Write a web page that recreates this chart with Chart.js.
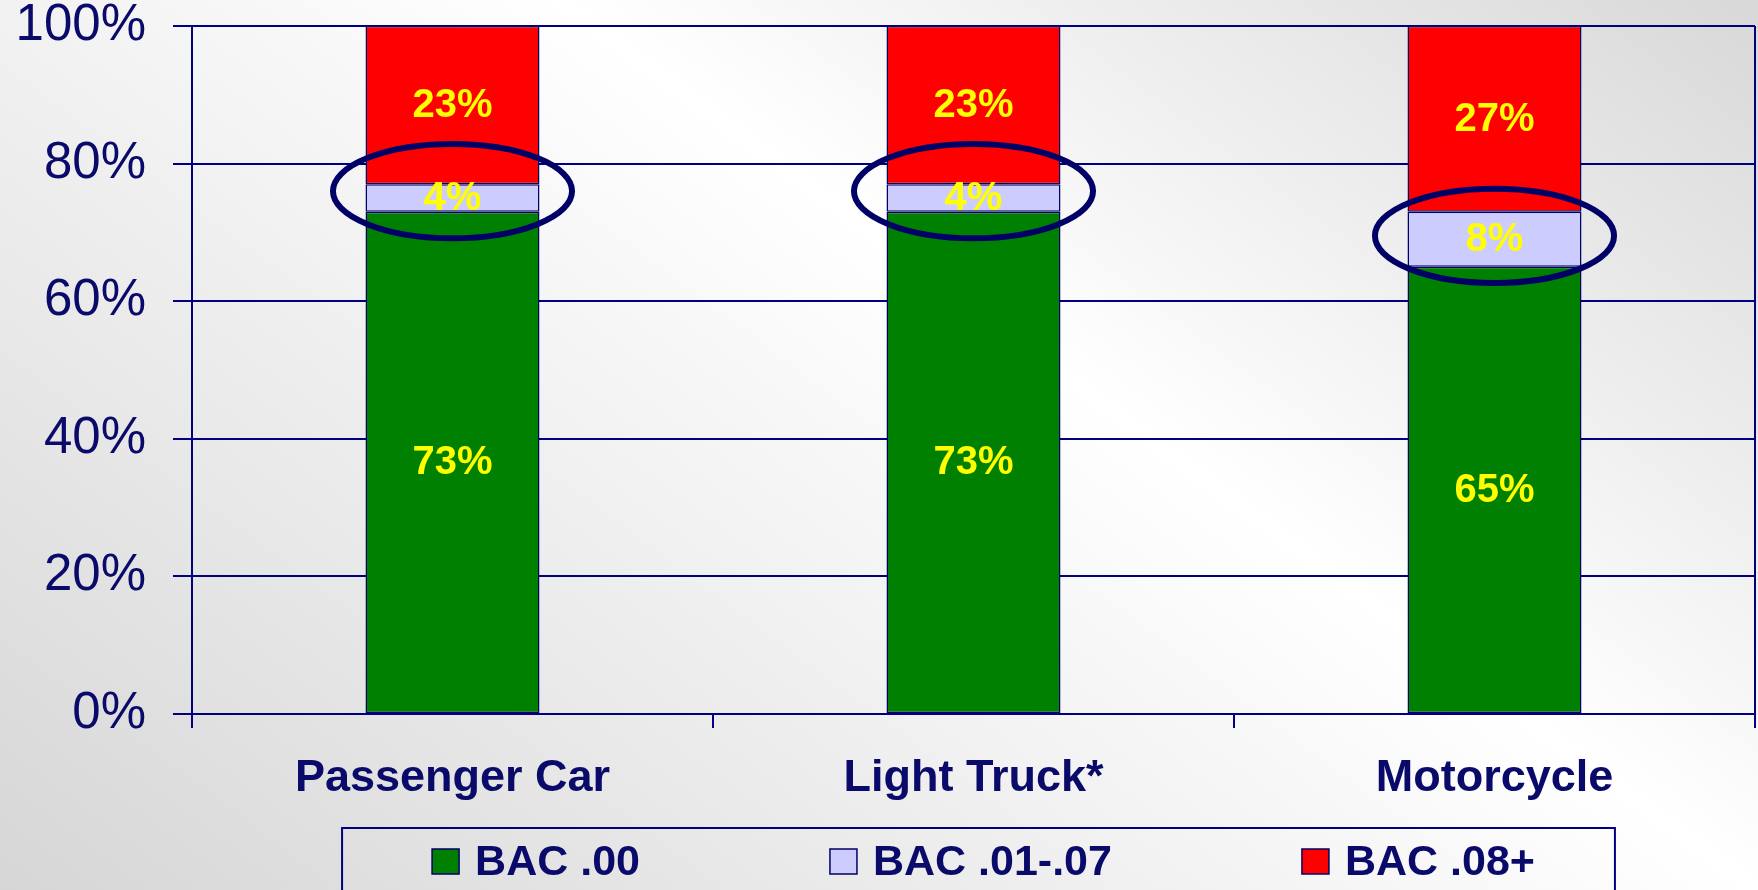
<!DOCTYPE html>
<html>
<head>
<meta charset="utf-8">
<script src="https://cdn.jsdelivr.net/npm/chart.js@4.4.1/dist/chart.umd.min.js"></script>
<style>
html,body{margin:0;padding:0;overflow:hidden;background:#fff}
#wrap{width:1758px;height:890px;position:relative;
  background:linear-gradient(36.6deg,#d6d6d6 0%,#ffffff 59.5%,#d8d8d8 100%);}
</style>
</head>
<body>
<div id="wrap"><canvas id="c"></canvas></div>
<script>
// ---- data ----
const categories = ['Passenger Car', 'Light Truck*', 'Motorcycle'];
const seriesNames = ['BAC .00', 'BAC .01-.07', 'BAC .08+'];
const bac00 = [73, 73, 65];
const bac0107 = [4, 4, 8];
const bac08 = [23, 23, 27];
const yTickValues = [0, 20, 40, 60, 80, 100];
const highlightCenters = [76, 76, 69.5];   // value each highlight ellipse is centred on

const seriesColors = ['#008000', '#CCCCFF', '#FF0000'];
const NAVY = '#000080';
const TEXT = '#0a0a6a';
const FONT = '"Liberation Sans", Arial, Helvetica, sans-serif';

const valueLabels = {
  id: 'valueLabels',
  afterDatasetsDraw(chart) {
    const ctx = chart.ctx;
    const xs = chart.scales.x, ys = chart.scales.y;
    ctx.save();
    // highlight ellipses
    const meta0 = chart.getDatasetMeta(0);
    highlightCenters.forEach((v, i) => {
      const bw = meta0.data[i].width;
      const cx = xs.getPixelForValue(i);
      const cy = ys.getPixelForValue(v);
      const ry = Math.abs(ys.getPixelForValue(v + 6.85) - cy);
      ctx.beginPath();
      ctx.ellipse(cx, cy, bw * 0.687, ry, 0, 0, Math.PI * 2);
      ctx.lineWidth = 6;
      ctx.strokeStyle = '#000066';
      ctx.stroke();
    });
    // value labels
    ctx.font = 'bold 40px ' + FONT;
    ctx.fillStyle = '#FFFF00';
    ctx.textAlign = 'center';
    ctx.textBaseline = 'middle';
    chart.data.datasets.forEach((ds, di) => {
      const meta = chart.getDatasetMeta(di);
      meta.data.forEach((bar, i) => {
        const y = (bar.y + bar.base) / 2;
        ctx.fillText(ds.data[i] + '%', bar.x, y + 1);
      });
    });
    ctx.restore();
  }
};

const frameAndLegend = {
  id: 'frameAndLegend',
  afterDraw(chart) {
    const ctx = chart.ctx;
    const ca = chart.chartArea;
    ctx.save();
    // plot frame (right edge)
    ctx.strokeStyle = NAVY;
    ctx.lineWidth = 2;
    ctx.beginPath();
    ctx.moveTo(ca.right, ca.top);
    ctx.lineTo(ca.right, ca.bottom);
    ctx.stroke();
    // legend
    ctx.font = 'bold 43px ' + FONT;
    const box = 27, gap = 16, spacing = 190;
    const items = chart.data.datasets.map(ds => ({
      label: ds.label, color: ds.backgroundColor, w: ctx.measureText(ds.label).width
    }));
    const total = items.reduce((s, it) => s + box + gap + it.w, 0) + spacing * (items.length - 1);
    let x = (ca.left + ca.right) / 2 + 10 - total / 2;
    const top = chart.height - 62;
    const cy = top + 34;
    ctx.strokeStyle = NAVY;
    ctx.lineWidth = 2;
    ctx.strokeRect(x - 90, top, total + 170, 120);
    items.forEach(it => {
      ctx.fillStyle = it.color;
      ctx.fillRect(x, cy - 13, box, 25);
      ctx.strokeStyle = '#000066';
      ctx.lineWidth = 1.5;
      ctx.strokeRect(x, cy - 13, box, 25);
      ctx.fillStyle = TEXT;
      ctx.textAlign = 'left';
      ctx.textBaseline = 'middle';
      ctx.fillText(it.label, x + box + gap, cy + 1);
      x += box + gap + it.w + spacing;
    });
    ctx.restore();
  }
};

const seriesData = [bac00, bac0107, bac08];

new Chart(document.getElementById('c'), {
  type: 'bar',
  data: {
    labels: categories,
    datasets: seriesNames.map((name, i) => ({
      label: name,
      data: seriesData[i],
      backgroundColor: seriesColors[i],
      borderColor: '#000066',
      borderWidth: 1.5,
      borderSkipped: false,
      categoryPercentage: 1,
      barPercentage: 0.334
    }))
  },
  options: {
    responsive: true,
    maintainAspectRatio: false,
    animation: false,
    layout: { padding: { left: 0, right: 3, top: 0, bottom: 84 } },
    plugins: { legend: { display: false }, tooltip: { enabled: false } },
    scales: {
      x: {
        stacked: true,
        grid: { display: true, drawOnChartArea: false, drawTicks: true, tickLength: 14, color: NAVY, lineWidth: 2, offset: true },
        border: { display: true, color: NAVY, width: 2 },
        ticks: { color: TEXT, font: { family: FONT, size: 45, weight: 'bold', lineHeight: 1.2 }, padding: 24, maxRotation: 0 },
        afterFit(s) { s.height = 92; }
      },
      y: {
        stacked: true,
        min: yTickValues[0],
        max: yTickValues[yTickValues.length - 1],
        afterBuildTicks(s) { s.ticks = yTickValues.map(v => ({ value: v })); },
        grid: { color: NAVY, lineWidth: 2, tickLength: 19, drawTicks: true },
        border: { display: true, color: NAVY, width: 2 },
        ticks: {
          color: TEXT,
          font: { family: FONT, size: 51, weight: 'normal', lineHeight: 1.02 },
          padding: 27,
          callback: v => v + '%'
        },
        afterFit(s) { s.width = 192; s.paddingTop = 26; s.paddingBottom = 26; }
      }
    }
  },
  plugins: [valueLabels, frameAndLegend]
});
</script>
</body>
</html>
